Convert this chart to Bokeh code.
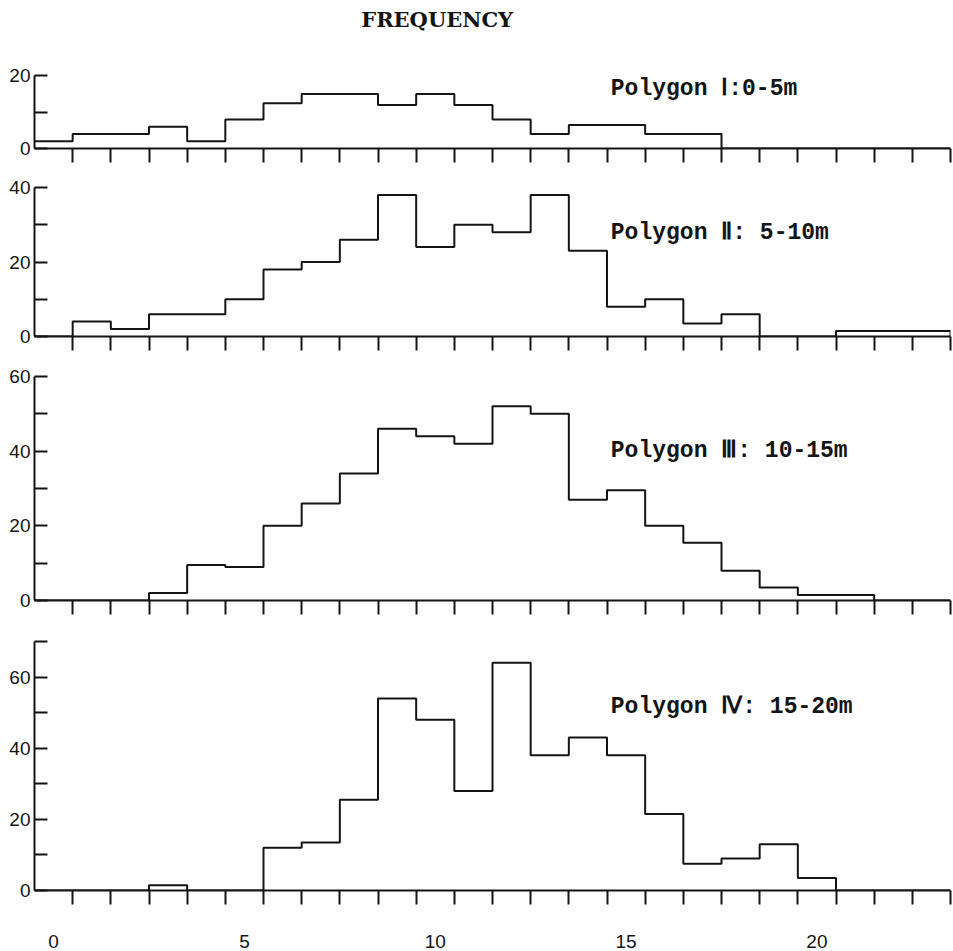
from bokeh.plotting import figure
from bokeh.layouts import column
from bokeh.models import FixedTicker, Label, Range1d
from bokeh.embed import file_html
from bokeh.resources import INLINE

# ---- data -------------------------------------------------------------
bin_centers = list(range(24))          # tree height classes (m)
x_tick_labels = [0, 5, 10, 15, 20]

freq_0_5 = [2, 4, 4, 6, 2, 8, 12.5, 15, 15, 12, 15, 12, 8, 4, 6.5, 6.5, 4, 4,
            0, 0, 0, 0, 0, 0]
freq_5_10 = [0, 4, 2, 6, 6, 10, 18, 20, 26, 38, 24, 30, 28, 38, 23, 8, 10, 3.5,
             6, 0, 0, 1.5, 1.5, 1.5]
freq_10_15 = [0, 0, 0, 2, 9.5, 9, 20, 26, 34, 46, 44, 42, 52, 50, 27, 29.5, 20,
              15.5, 8, 3.5, 1.5, 1.5, 0, 0]
freq_15_20 = [0, 0, 0, 1.5, 0, 0, 12, 13.5, 25.5, 54, 48, 28, 64, 38, 43, 38,
              21.5, 7.5, 9, 13, 3.5, 0, 0, 0]

series = [freq_0_5, freq_5_10, freq_10_15, freq_15_20]
panel_labels = ["Polygon Ⅰ:0-5m", "Polygon Ⅱ: 5-10m",
                "Polygon Ⅲ: 10-15m", "Polygon Ⅳ: 15-20m"]
title_text = "FREQUENCY"
y_max = [20, 40, 60, 70]
y_labelled = [[0, 20], [0, 20, 40], [0, 20, 40, 60], [0, 20, 40, 60]]

# ---- layout / style ---------------------------------------------------
INK = "#141414"
label_y = [16.5, 27.7, 40, 51.5]
heights = [170, 188, 264, 328]
tops = [0, 17, 18, 19]
bottoms = [22, 22, 22, 48]
# first panel's frame extends up into the title area (axis line bounded)
y_view_top = [40.8, 40, 60, 70]

edges = [c - 0.5 for c in bin_centers] + [bin_centers[-1] + 0.5]

figs = []
for i, vals in enumerate(series):
    p = figure(width=952, height=heights[i], output_backend="svg",
               toolbar_location=None,
               x_range=Range1d(edges[0], edges[-1]),
               y_range=Range1d(0, y_view_top[i]),
               min_border_left=34, min_border_right=2,
               min_border_top=tops[i], min_border_bottom=bottoms[i])
    p.outline_line_color = None
    p.grid.visible = False
    p.background_fill_color = "white"
    p.border_fill_color = "white"

    # step outline of the frequency polygon
    p.step(x=edges, y=list(vals) + [0], mode="after",
           line_color=INK, line_width=2)

    # y axis
    yt = list(range(0, y_max[i] + 1, 10))
    p.yaxis.ticker = FixedTicker(ticks=yt)
    p.yaxis.bounds = (0, y_max[i])
    p.yaxis.major_label_overrides = {t: "" for t in yt if t not in y_labelled[i]}
    p.yaxis.major_tick_in = 13
    p.yaxis.major_tick_out = 0
    p.yaxis.minor_tick_line_color = None
    p.yaxis.axis_line_width = 2
    p.yaxis.axis_line_color = INK
    p.yaxis.major_tick_line_width = 2
    p.yaxis.major_tick_line_color = INK
    p.yaxis.major_label_standoff = 4
    p.yaxis.major_label_text_font = "Liberation Sans"
    p.yaxis.major_label_text_font_size = "19px"
    p.yaxis.major_label_text_color = INK

    # x axis
    if i == 3:
        p.xaxis.ticker = FixedTicker(ticks=x_tick_labels, minor_ticks=edges[1:])
        p.xaxis.major_label_standoff = 30
        p.xaxis.major_label_text_font = "Liberation Sans"
        p.xaxis.major_label_text_font_size = "19px"
        p.xaxis.major_label_text_color = INK
    else:
        p.xaxis.ticker = FixedTicker(ticks=[], minor_ticks=edges[1:])
        p.xaxis.major_label_text_font_size = "0px"
        p.xaxis.major_label_standoff = 0
    p.xaxis.major_tick_line_color = None
    p.xaxis.major_tick_in = 0
    p.xaxis.major_tick_out = 0
    p.xaxis.minor_tick_in = 0
    p.xaxis.minor_tick_out = 14
    p.xaxis.minor_tick_line_width = 2
    p.xaxis.minor_tick_line_color = INK
    p.xaxis.axis_line_width = 2
    p.xaxis.axis_line_color = INK

    p.add_layout(Label(x=14.6, y=label_y[i], text=panel_labels[i],
                       text_font="Liberation Mono", text_font_style="bold",
                       text_font_size="23px", text_color=INK,
                       text_baseline="middle", text_align="left"))
    figs.append(p)

# chart title, drawn in the upper part of the first panel's frame
figs[0].add_layout(Label(x=10.05, y=35.6, text=title_text,
                         text_font="DejaVu Serif", text_font_size="21px",
                         text_font_style="bold",
                         text_color=INK, text_align="center",
                         text_baseline="middle"))

layout = column(*figs, spacing=0)
open("out.html", "w").write(file_html(layout, INLINE))
